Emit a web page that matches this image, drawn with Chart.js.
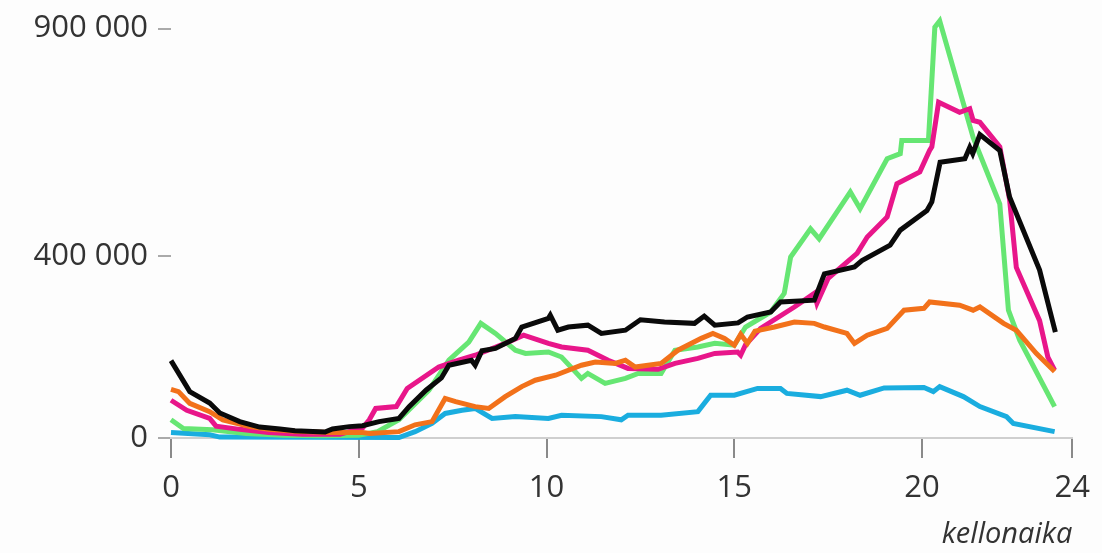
<!DOCTYPE html>
<html>
<head>
<meta charset="utf-8">
<script src="https://cdn.jsdelivr.net/npm/chart.js@4.4.1/dist/chart.umd.min.js"></script>
<style>
  body { margin: 0; background: #fdfdfd; }
  #wrap { width: 1102px; height: 553px; }
</style>
</head>
<body>
<div id="wrap"><canvas id="chart" width="1102" height="553"></canvas></div>
<script>
// tick labels
const xTicks = [0, 5, 10, 15, 20, 24];
const yTicks = [0, 400000, 900000];

// black series
const blackHours = [0, 0.5, 1.03, 1.3, 1.83, 2.36, 2.9, 3.3, 4.1, 4.3, 4.75, 5.1, 5.54, 6.07, 6.34, 6.79, 7.2, 7.4, 8.0, 8.1, 8.28, 8.64, 9.17, 9.34, 10.05, 10.1, 10.3, 10.58, 11.1, 11.46, 12.1, 12.5, 13.14, 13.94, 14.2, 14.48, 15.1, 15.35, 15.97, 16.23, 17.13, 17.4, 18.2, 18.4, 19.15, 19.42, 20.13, 20.26, 20.48, 21.14, 21.27, 21.35, 21.54, 22.07, 22.33, 23.13, 23.4, 23.55];
const blackValues = [170000, 102000, 77000, 55000, 36000, 24000, 20000, 16000, 13000, 20000, 25000, 27000, 36000, 43000, 69000, 105000, 132000, 160000, 171000, 160000, 192000, 197000, 219000, 244000, 263000, 270000, 237000, 244000, 248000, 230000, 237000, 260000, 255000, 252000, 268000, 248000, 253000, 266000, 277000, 299000, 303000, 361000, 376000, 390000, 424000, 457000, 500000, 519000, 606000, 614000, 639000, 625000, 667000, 632000, 530000, 369000, 281000, 233000];

// pink series
const pinkHours = [0, 0.42, 1.03, 1.2, 1.83, 2.6, 3.5, 4.5, 4.75, 5.1, 5.28, 5.45, 6.0, 6.29, 7.13, 7.66, 8.1, 8.9, 9.39, 10.05, 10.4, 11.1, 11.64, 12.17, 12.97, 13.42, 14.03, 14.48, 15.09, 15.17, 15.3, 15.7, 16.6, 17.13, 17.2, 17.5, 18.27, 18.54, 19.07, 19.33, 19.94, 20.2, 20.26, 20.44, 21.0, 21.27, 21.36, 21.54, 22.07, 22.33, 22.51, 23.13, 23.35, 23.53];
const pinkValues = [83000, 61000, 43000, 26000, 19000, 12000, 8000, 8000, 14000, 22000, 40000, 65000, 69000, 109000, 156000, 171000, 182000, 208000, 226000, 208000, 200000, 193000, 171000, 153000, 151000, 164000, 175000, 186000, 189000, 182000, 205000, 241000, 288000, 318000, 296000, 351000, 406000, 442000, 486000, 559000, 585000, 632000, 640000, 738000, 716000, 724000, 698000, 694000, 640000, 525000, 375000, 258000, 178000, 149000];

// green series
const greenHours = [0, 0.33, 1.1, 2, 3, 4, 5, 5.5, 6.07, 6.87, 7.4, 7.93, 8.25, 8.64, 9.17, 9.44, 10.05, 10.4, 10.93, 11.1, 11.56, 12.1, 12.44, 13.05, 13.42, 14.03, 14.48, 15.0, 15.3, 15.97, 16.33, 16.5, 17.03, 17.26, 18.09, 18.35, 19.07, 19.42, 19.46, 20.17, 20.34, 20.47, 21.36, 22.07, 22.3, 22.6, 23.53];
const greenValues = [40000, 21000, 18000, 10000, 6000, 5000, 6000, 14000, 40000, 105000, 171000, 211000, 252000, 230000, 193000, 186000, 189000, 178000, 131000, 142000, 120000, 131000, 142000, 142000, 193000, 200000, 208000, 204000, 244000, 277000, 318000, 398000, 460000, 438000, 541000, 504000, 614000, 625000, 654000, 654000, 903000, 917000, 661000, 514000, 281000, 215000, 69000];

// orange series
const orangeHours = [0, 0.2, 0.5, 1.03, 1.38, 2.1, 2.6, 3.3, 4.2, 5.1, 5.3, 6.07, 6.5, 6.95, 7.3, 7.58, 8.1, 8.46, 8.9, 9.34, 9.7, 10.24, 10.93, 11.3, 11.83, 12.1, 12.36, 13.05, 13.5, 14.12, 14.43, 14.74, 15.0, 15.17, 15.35, 15.55, 16.07, 16.6, 17.13, 17.4, 18.0, 18.2, 18.54, 19.07, 19.52, 20.05, 20.2, 21.0, 21.36, 21.54, 22.17, 22.51, 23.04, 23.53];
const orangeValues = [107000, 102000, 76000, 58000, 40000, 25000, 19000, 15000, 12000, 12000, 10000, 14000, 29000, 36000, 87000, 80000, 69000, 65000, 91000, 113000, 127000, 138000, 160000, 167000, 164000, 171000, 156000, 164000, 193000, 219000, 230000, 219000, 204000, 228000, 208000, 235000, 244000, 255000, 252000, 244000, 230000, 208000, 226000, 241000, 281000, 285000, 299000, 292000, 281000, 288000, 252000, 237000, 186000, 146000];

// blue series
const blueHours = [0, 1.03, 1.3, 6.07, 6.5, 6.95, 7.3, 7.75, 8.1, 8.55, 9.17, 10.05, 10.4, 11.46, 11.99, 12.17, 13.05, 14.03, 14.37, 15.0, 15.62, 16.23, 16.4, 17.3, 18.0, 18.35, 18.99, 20.05, 20.3, 20.47, 21.1, 21.54, 22.25, 22.43, 23.53];
const blueValues = [12000, 7000, 2000, 1000, 14000, 32000, 54000, 61000, 65000, 43000, 47000, 43000, 50000, 47000, 40000, 50000, 50000, 58000, 94000, 94000, 109000, 109000, 98000, 91000, 105000, 94000, 110000, 111000, 102000, 113000, 91000, 69000, 47000, 32000, 14000];

function pts(hours, values) {
  return hours.map((h, i) => ({ x: h, y: values[i] }));
}

function line(hours, values, color) {
  return {
    data: pts(hours, values),
    borderColor: color,
    borderWidth: 5,
    pointRadius: 0,
    tension: 0,
    fill: false,
    clip: false,
  };
}

const font = "'Open Sans', 'Noto Sans', sans-serif";

new Chart(document.getElementById("chart").getContext("2d"), {
  type: "line",
  data: {
    // first dataset is drawn on top
    datasets: [
      line(blackHours, blackValues, "#0a0a0a"),
      line(orangeHours, orangeValues, "#f2711a"),
      line(pinkHours, pinkValues, "#e8168a"),
      line(greenHours, greenValues, "#66e673"),
      line(blueHours, blueValues, "#1aaddf"),
    ],
  },
  options: {
    responsive: false,
    animation: false,
    layout: { padding: { top: 0, right: 26, left: 0, bottom: 0 } },
    plugins: { legend: { display: false }, tooltip: { enabled: false } },
    scales: {
      x: {
        type: "linear",
        min: 0,
        max: 24,
        afterBuildTicks: (axis) => { axis.ticks = xTicks.map((v) => ({ value: v })); },
        afterFit: (axis) => { axis.height = 115; },
        ticks: {
          color: "#333",
          font: { family: font, size: 31 },
          padding: 12,
          maxRotation: 0,
        },
        grid: {
          drawOnChartArea: false,
          drawTicks: true,
          tickLength: 20,
          color: "#8a8a8a",
          lineWidth: 2,
        },
        border: { display: true, color: "#cfcfcf", width: 2 },
        title: {
          display: true,
          text: "kellonaika",
          align: "end",
          color: "#333",
          font: { family: font, size: 29, style: "italic" },
          padding: { top: 0, bottom: 1 },
        },
      },
      y: {
        min: 0,
        max: 900000,
        afterBuildTicks: (axis) => { axis.ticks = yTicks.map((v) => ({ value: v })); },
        afterFit: (axis) => { axis.width = 171; },
        ticks: {
          color: "#333",
          font: { family: font, size: 31 },
          padding: 10,
          callback: (v) => String(v).replace(/\B(?=(\d{3})+(?!\d))/g, " "),
        },
        grid: {
          drawOnChartArea: false,
          drawTicks: true,
          tickLength: 13,
          color: "#aaa",
          lineWidth: 2,
        },
        border: { display: false },
      },
    },
  },
});
</script>
</body>
</html>
